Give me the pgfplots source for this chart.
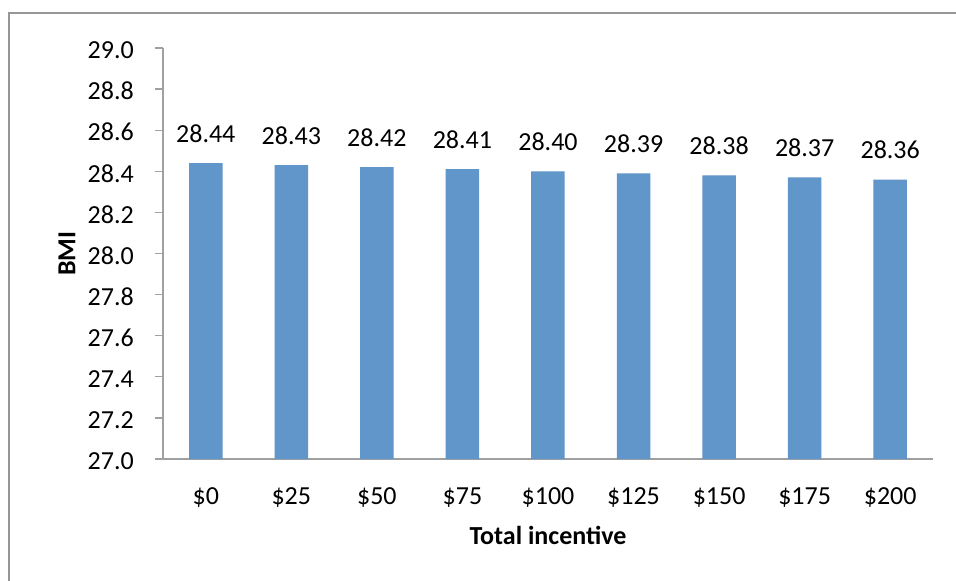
\documentclass[border=0pt]{standalone}
\usepackage{fontspec}
\setmainfont{Carlito}
\usepackage{pgfplots}
\pgfplotsset{compat=1.18}
\definecolor{barblue}{RGB}{96,150,201}
\definecolor{axisgray}{RGB}{160,160,160}
\definecolor{framegray}{RGB}{150,150,150}
\begin{document}
\begin{tikzpicture}
\useasboundingbox (-163pt,-122pt) rectangle (793pt,459pt);
\fill[white] (-163pt,-122pt) rectangle (793pt,459pt);
\draw[framegray, line width=2pt] (-153.5pt,-123pt) -- (-153.5pt,446pt) -- (794pt,446pt);
\begin{axis}[
  at={(0pt,0pt)}, anchor=south west,
  scale only axis, width=770pt, height=411pt,
  xmin=-0.5, xmax=8.5, ymin=27, ymax=29,
  axis x line*=bottom, axis y line*=left,
  axis line style={axisgray, line width=1.2pt, -},
  ytick={27,27.2,...,29.01},
  xtick={0,...,8},
  xticklabels={\$0,\$25,\$50,\$75,\$100,\$125,\$150,\$175,\$200},
  minor xtick={-0.5,0.5,...,8.6},
  tick align=outside,
  major tick length=8pt, minor tick length=8pt,
  xtick style={draw=none},
  minor x tick style={axisgray, line width=1.2pt},
  ytick style={axisgray, line width=1.2pt},
  /pgf/number format/assume math mode=true,
  yticklabel={\pgfmathprintnumber[fixed,fixed zerofill,precision=1]{\tick}},
  every tick label/.append style={font=\fontsize{26}{30}\selectfont, inner sep=0pt},
  yticklabel style={anchor=east, xshift=-21pt, yshift=-2pt},
  xticklabel style={anchor=base, yshift=-37pt},
  xlabel={\textbf{Total incentive}},
  ylabel={\textbf{BMI}},
  xlabel style={font=\fontsize{26}{30}\selectfont, inner sep=0pt, at={([yshift=-85pt]axis description cs:0.5,0)}, anchor=base},
  ylabel style={font=\fontsize{26}{30}\selectfont, inner sep=0pt, at={([xshift=-96pt]axis description cs:0,0.5)}, anchor=center},
  ybar, bar width=33.5pt,
  clip=false,
  nodes near coords={\pgfmathprintnumber[fixed,fixed zerofill,precision=2,assume math mode=true]{\pgfplotspointmeta}},
  nodes near coords style={font=\fontsize{26}{30}\selectfont, anchor=base, inner sep=0pt, yshift=21pt, text=black},
]
\addplot[fill=barblue, draw=none] coordinates {
  (0,28.44) (1,28.43) (2,28.42) (3,28.41) (4,28.40) (5,28.39) (6,28.38) (7,28.37) (8,28.36)
};
\end{axis}
\end{tikzpicture}
\end{document}
